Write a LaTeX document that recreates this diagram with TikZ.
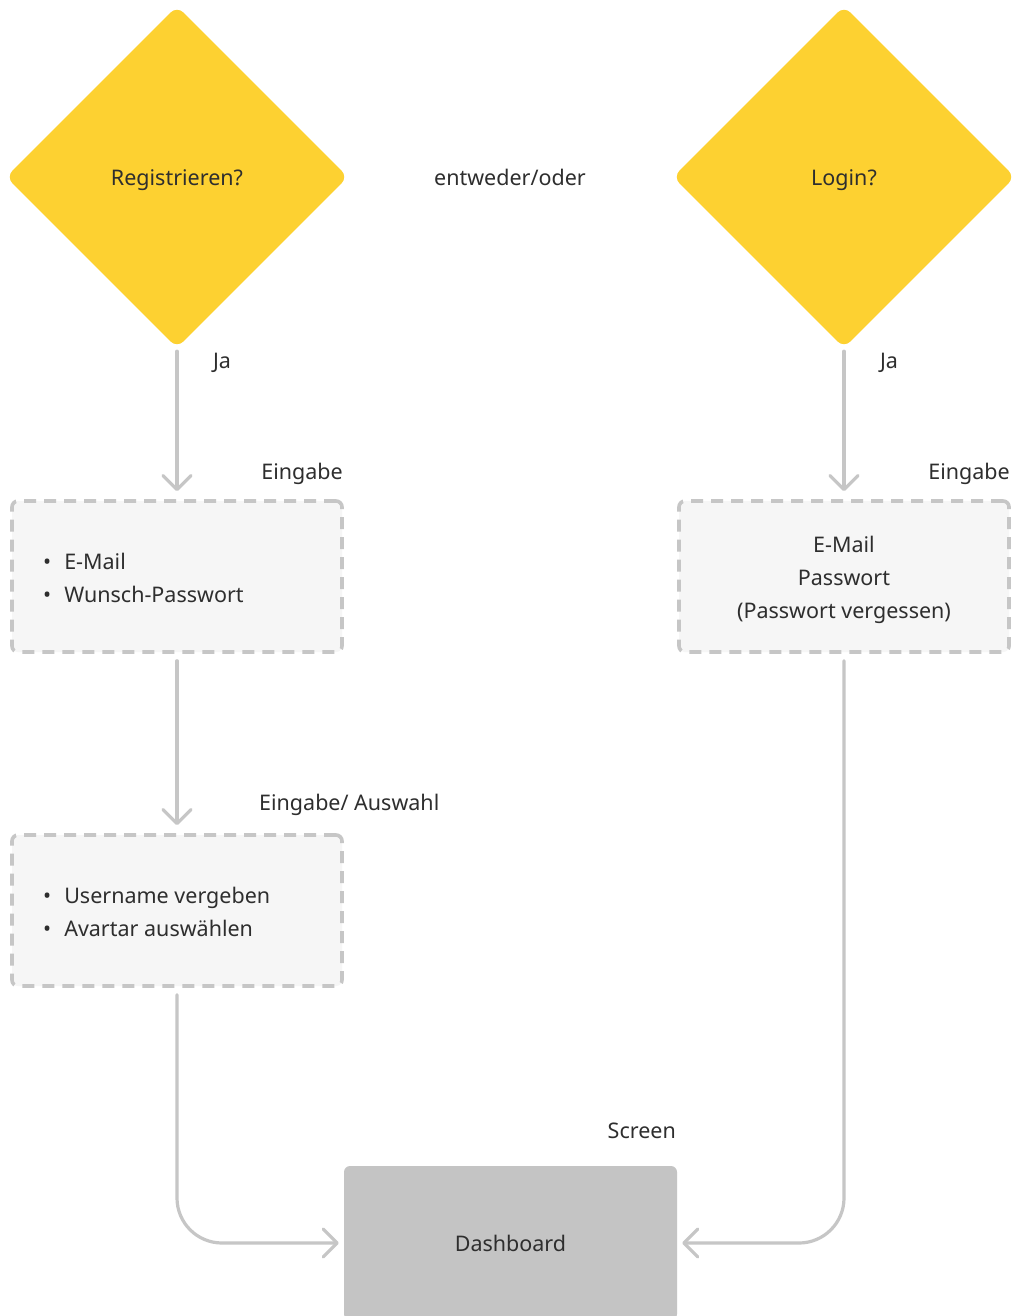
\documentclass[tikz,border=0pt]{standalone}
\usepackage{fontspec}
\setmainfont{Noto Sans}
\usetikzlibrary{shapes.geometric,arrows.meta}
\definecolor{gold}{HTML}{FDD131}
\definecolor{ink}{HTML}{2E2E2E}
\definecolor{wire}{HTML}{C6C6C6}
\definecolor{paper}{HTML}{F6F6F6}
\definecolor{screenfill}{HTML}{C4C4C4}
\tikzset{
  txt/.style={font=\fontsize{21.5}{33}\selectfont, text=ink, inner sep=0pt},
  lbl/.style={txt, yshift=-3pt},
  decision/.style={diamond, aspect=1, fill=gold, minimum width=342pt, minimum height=342pt,
    inner sep=0pt, rounded corners=9pt},
  inputbox/.style={draw=wire, line width=3.6pt, fill=paper, rounded corners=6pt,
    dash pattern=on 12pt off 8pt, minimum width=330pt, minimum height=151pt, inner sep=0pt},
  screenbox/.style={fill=screenfill, rounded corners=6pt, minimum width=333pt,
    minimum height=154pt, inner sep=0pt, txt},
  flow/.style={draw=wire, line width=3.2pt, line cap=round, line join=round,
    -{Straight Barb[length=14pt,width=28pt,line width=3.2pt,round]}},
}
\newcommand{\bul}{\textbullet\hspace{13pt}}
\begin{document}
\begin{tikzpicture}[x=1pt,y=-1pt]
  \useasboundingbox (0,0) rectangle (1014,1316);
  \fill[white] (0,0) rectangle (1014,1316);

  % decisions
  \node[decision] (reg) at (177,177) {};
  \node[lbl] (regtext) at (177,177) {Registrieren?};
  \node[decision] (log) at (844,177) {};
  \node[lbl] (logtext) at (844,177) {Login?};
  \node[txt] (either) at (510,177) {entweder/oder};

  % input boxes
  \node[inputbox] (regin) at (177,576.5) {};
  \node[txt, anchor=west, align=left] (reglist) at (43,578)
    {\bul E-Mail\\\bul Wunsch-Passwort};
  \node[inputbox] (login) at (844,576.5) {};
  \node[lbl, align=center] (loglist) at (844,577)
    {E-Mail\\Passwort\\(Passwort vergessen)};
  \node[inputbox] (prof) at (177,910.5) {};
  \node[txt, anchor=west, align=left] (proflist) at (43,912)
    {\bul Username vergeben\\\bul Avartar auswählen};

  % target screen
  \node[screenbox] (dash) at (510.5,1243) {Dashboard};

  % labels
  \node[lbl] (ja1) at (222,360) {Ja};
  \node[lbl] (ja2) at (889,360) {Ja};
  \node[lbl, anchor=east] (lab1) at (343,471) {Eingabe};
  \node[lbl, anchor=east] (lab2) at (1010,471) {Eingabe};
  \node[lbl, anchor=west] (lab3) at (259,802) {Eingabe/ Auswahl};
  \node[txt, anchor=east] (lab4) at (676,1131) {Screen};

  % connectors
  \draw[flow, shorten <=3pt, shorten >=8pt] (reg.south) -- (regin.north);
  \draw[flow, shorten <=3pt, shorten >=8pt] (log.south) -- (login.north);
  \draw[flow, shorten <=7pt, shorten >=8pt] (regin.south) -- (prof.north);
  \draw[flow, rounded corners=45pt, shorten <=7pt, shorten >=5pt] (prof.south) |- (dash.west);
  \draw[flow, rounded corners=45pt, shorten <=7pt, shorten >=5pt] (login.south) |- (dash.east);
\end{tikzpicture}
\end{document}
